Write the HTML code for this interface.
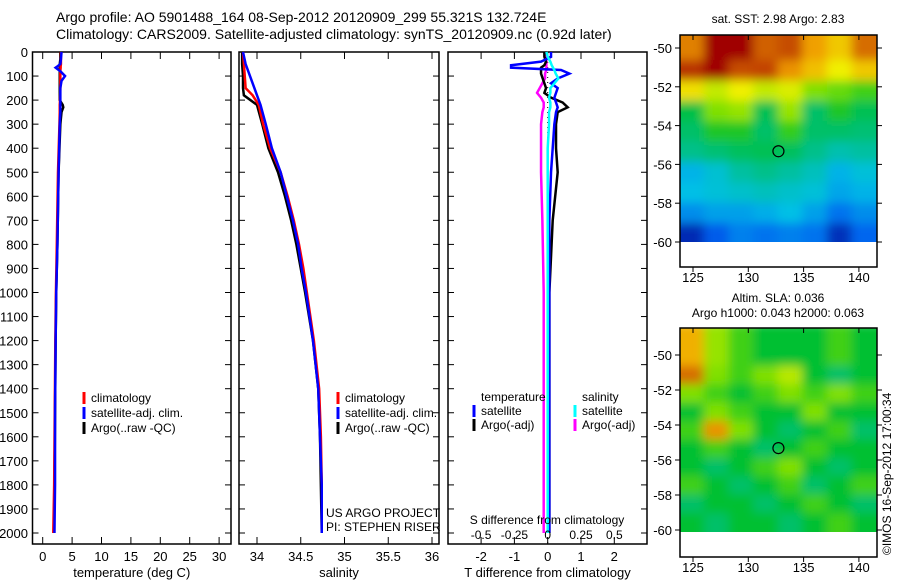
<!DOCTYPE html>
<html><head><meta charset="utf-8">
<style>
body{margin:0;background:#fff;}
svg{display:block;font-family:"Liberation Sans",sans-serif;}
</style></head>
<body>
<svg id="fig" width="900" height="580" viewBox="0 0 900 580">
<defs>
<filter id="blur" x="-0.1" y="-0.1" width="1.2" height="1.2"><feGaussianBlur stdDeviation="5"/></filter>
<clipPath id="c1"><rect x="680" y="35" width="197" height="207"/></clipPath>
<clipPath id="c2"><rect x="680" y="328" width="197" height="204"/></clipPath>
</defs>
<text x="56" y="22" font-size="14">Argo profile: AO 5901488_164 08-Sep-2012 20120909_299 55.321S 132.724E</text>
<text x="56" y="39" font-size="14">Climatology: CARS2009. Satellite-adjusted climatology: synTS_20120909.nc (0.92d later)</text>
<g id="plots"></g>
<text x="0" y="0" font-size="12" transform="translate(891,555) rotate(-90)">©IMOS 16-Sep-2012 17:00:34</text>
</svg>
<script>
// ---- data ----
const depthT = [0,30,50,60,65,80,100,120,150,200,220,230,250,300,500,800,1000,1200,1500,1800,2000];
const tempClim = [3.1,3.1,3.1,3.05,3.05,3.0,3.0,3.0,3.0,2.95,2.9,2.9,2.9,2.85,2.6,2.4,2.25,2.15,2.05,1.95,1.8];
const tempSat = [3.2,3.1,3.0,2.5,2.2,3.0,3.8,3.2,3.0,3.0,3.0,3.0,3.0,2.9,2.7,2.5,2.3,2.2,2.1,2.1,2.0];
const tempArgo = [3.0,3.0,2.9,2.9,2.9,2.9,2.9,2.9,2.9,2.9,3.4,3.5,3.2,3.0,2.7,2.5,2.3,2.2,2.1,2.0,1.9];
const depthS = [0,50,100,150,180,220,300,400,500,600,700,800,900,1000,1200,1400,1600,1800,2000];
const salClim = [33.84,33.85,33.86,33.87,33.95,34.02,34.07,34.15,34.27,34.35,34.42,34.48,34.53,34.57,34.65,34.71,34.73,34.74,34.74];
const salSat = [33.84,33.87,33.92,33.97,34.0,34.04,34.1,34.17,34.27,34.34,34.41,34.47,34.51,34.56,34.64,34.70,34.72,34.74,34.74];
const salArgo = [33.83,33.83,33.84,33.84,33.85,34.0,34.06,34.13,34.24,34.32,34.39,34.45,34.50,34.55,34.64,34.70,34.72,34.73,34.74];
const depthD = [0,20,40,55,65,75,90,110,130,150,170,190,210,230,250,300,400,500,700,1000,1300,1600,2000];
const dTsat = [0.1,0.1,-0.2,-1.1,-1.1,0.4,0.65,0.3,0.1,0.3,0.25,0.2,0.25,0.3,0.25,0.2,0.15,0.1,0.05,0.05,0.05,0.05,0.05];
const dTargo = [-0.1,-0.1,-0.05,-0.1,-0.2,-0.2,-0.2,-0.15,-0.1,-0.05,-0.1,0.1,0.45,0.6,0.3,0.25,0.25,0.3,0.15,0.05,0.05,0.05,0.05];
const dSsat = [-0.01,0.0,0.02,0.03,0.04,0.05,0.06,0.08,0.05,0.02,0.02,0.01,0.02,0.02,0.01,0.01,0.0,0.0,0.0,0.0,0.0,0.0,0.0];
const dSargo = [-0.01,-0.01,-0.01,-0.01,-0.01,-0.01,-0.02,-0.02,-0.04,-0.06,-0.08,-0.05,-0.03,-0.03,-0.04,-0.05,-0.05,-0.05,-0.04,-0.03,-0.03,-0.03,-0.03];
const depthTicks = [0,100,200,300,400,500,600,700,800,900,1000,1100,1200,1300,1400,1500,1600,1700,1800,1900,2000];
const tTicks = [0,5,10,15,20,25,30];
const sTicks = [34,34.5,35,35.5,36];
const sTickLabels = ["34","34.5","35","35.5","36"];
const dTTicks = [-2,-1,0,1,2];
const dSTicks = [-0.5,-0.25,0,0.25,0.5];
const dSTickLabels = ["-0.5","-0.25","0","0.25","0.5"];
const lonTicks = [125,130,135,140];
const latTicks = [-50,-52,-54,-56,-58,-60];
const sstGrid = [
[0.85,1.0,1.0,0.9,0.92,0.8,0.75,0.88],
[0.95,1.0,0.92,0.93,0.82,0.76,0.7,0.75],
[0.72,0.66,0.7,0.66,0.68,0.6,0.58,0.55],
[0.48,0.6,0.62,0.47,0.62,0.45,0.52,0.47],
[0.45,0.52,0.52,0.45,0.54,0.45,0.45,0.44],
[0.42,0.44,0.46,0.47,0.46,0.42,0.38,0.4],
[0.28,0.33,0.4,0.42,0.4,0.36,0.28,0.32],
[0.3,0.32,0.34,0.36,0.34,0.32,0.26,0.28],
[0.22,0.25,0.25,0.27,0.3,0.25,0.18,0.22],
[0.05,0.14,0.2,0.18,0.2,0.18,0.06,0.16]];
const slaGrid = [
[0.78,0.62,0.55,0.5,0.5,0.5,0.55,0.5],
[0.88,0.6,0.55,0.6,0.65,0.5,0.45,0.5],
[0.6,0.55,0.5,0.55,0.6,0.55,0.6,0.55],
[0.5,0.6,0.55,0.5,0.5,0.6,0.5,0.5],
[0.55,0.82,0.6,0.5,0.45,0.5,0.55,0.45],
[0.5,0.55,0.5,0.45,0.5,0.55,0.5,0.5],
[0.5,0.45,0.5,0.55,0.6,0.5,0.45,0.5],
[0.55,0.5,0.45,0.5,0.55,0.45,0.5,0.55],
[0.45,0.5,0.5,0.45,0.5,0.55,0.5,0.45],
[0.5,0.45,0.5,0.5,0.45,0.5,0.55,0.5]];
const argoLon = 132.724, argoLat = -55.321;

// ---- drawing ----
const NS='http://www.w3.org/2000/svg';
const root=document.getElementById('plots');
function mk(tag,attrs,parent){const e=document.createElementNS(NS,tag);for(const k in attrs)e.setAttribute(k,attrs[k]);(parent||root).appendChild(e);return e;}
function txt(x,y,s,anchor,size,parent){const t=mk('text',{x:x,y:y,'font-size':size||12,'text-anchor':anchor||'start'},parent);t.textContent=s;return t;}
const yD=d=>52+d*0.2405;

function panel(name,x0,x1,xs,ticks,labels,title){
  const g=mk('g',{});
  
  
  const r=mk('rect',{x:x0,y:52,width:x1-x0,height:492,fill:'none',stroke:'#000','stroke-width':1.5},g);
  
  
  ticks.forEach((t,i)=>{const x=xs(t);
    mk('line',{x1:x,x2:x,y1:544,y2:537,stroke:'#000'},g);
    mk('line',{x1:x,x2:x,y1:52,y2:59,stroke:'#000'},g);
    const l=txt(x,561,labels[i],'middle',13,g);
    
    });
  depthTicks.forEach(d=>{mk('line',{x1:x0,x2:x0+6,y1:yD(d),y2:yD(d),stroke:'#000'},g);mk('line',{x1:x1,x2:x1-6,y1:yD(d),y2:yD(d),stroke:'#000'},g);});
  const tt=txt((x0+x1)/2,577,title,'middle',13,g);
  
  
  return g;
}
function line(g,xs,vals,depths,color,name){
  const p=mk('polyline',{points:vals.map((v,i)=>xs(v)+','+yD(depths[i])).join(' '),fill:'none',stroke:color,'stroke-width':2.5},g);
  
  
}
function legend(g,x,y,color,label){
  mk('line',{x1:x,x2:x,y1:y-10,y2:y+2,stroke:color,'stroke-width':3},g);
  const t=txt(x+7,y,label,'start',12,g);
  
  
}
depthTicks.forEach(d=>{const t=txt(28,yD(d)+5,String(d),'end',13);
  
  });

// panel 1
const xT=v=>42.7+v*5.88;
const g1=panel('temperature-panel',32.5,231,xT,tTicks,tTicks.map(String),'temperature (deg C)');
line(g1,xT,tempArgo,depthT,'#000','temp-argo-line');
line(g1,xT,tempClim,depthT,'#f00','temp-clim-line');
line(g1,xT,tempSat,depthT,'#00f','temp-sat-line');
legend(g1,84,402,'#f00','climatology');legend(g1,84,417,'#00f','satellite-adj. clim.');legend(g1,84,432,'#000','Argo(..raw -QC)');

// panel 2
const xS=v=>257+(v-34)*87.5;
const g2=panel('salinity-panel',239,439,xS,sTicks,sTickLabels,'salinity');
line(g2,xS,salArgo,depthS,'#000','sal-argo-line');
line(g2,xS,salClim,depthS,'#f00','sal-clim-line');
line(g2,xS,salSat,depthS,'#00f','sal-sat-line');
legend(g2,338,402,'#f00','climatology');legend(g2,338,417,'#00f','satellite-adj. clim.');legend(g2,338,432,'#000','Argo(..raw -QC)');
txt(326,517,'US ARGO PROJECT','start',12,g2);
txt(326,531,'PI: STEPHEN RISER','start',12,g2);

// panel 3
const xDT=v=>547.7+v*33.3;
const xDS=v=>547.7+v*133.2;
const g3=panel('difference-panel',448,647,xDT,dTTicks,dTTicks.map(String),'T difference from climatology');
mk('line',{x1:xDT(0),x2:xDT(0),y1:52,y2:544,stroke:'#000','stroke-dasharray':'1,4'},g3);
line(g3,xDS,dSargo,depthD,'#f0f','s-argo-diff-line');
line(g3,xDT,dTargo,depthD,'#000','t-argo-diff-line');
line(g3,xDT,dTsat,depthD,'#00f','t-sat-diff-line');
line(g3,xDS,dSsat,depthD,'#0ff','s-sat-diff-line');
txt(481,401,'temperature','start',12,g3);txt(582,401,'salinity','start',12,g3);
legend(g3,474,415,'#00f','satellite');legend(g3,474,429,'#000','Argo(-adj)');
legend(g3,575,415,'#0ff','satellite');legend(g3,575,429,'#f0f','Argo(-adj)');
txt(547,524,'S difference from climatology','middle',12,g3);
dSTicks.forEach((v,i)=>{const t=txt(xDS(v),539,dSTickLabels[i],'middle',12,g3);
  
  });

// maps
const stops=[[0,[0,16,150]],[0.15,[0,96,240]],[0.3,[0,192,230]],[0.4,[0,192,160]],[0.5,[0,192,48]],[0.6,[128,224,0]],[0.7,[240,240,0]],[0.8,[240,160,0]],[0.9,[208,96,0]],[1,[160,0,0]]];
function cmap(v){for(let i=1;i<stops.length;i++){if(v<=stops[i][0]){const a=stops[i-1],b=stops[i],f=(v-a[0])/(b[0]-a[0]);return 'rgb('+a[1].map((c,j)=>Math.round(c+(b[1][j]-c)*f)).join(',')+')';}}return 'rgb(160,0,0)';}
function map(name,grid,top,lat50,pxPerDeg,bottom,clip,titles){
  const g=mk('g',{});
  
  
  const xL=lon=>693+(lon-125)*11.06;
  const yL=lat=>lat50+(-50-lat)*pxPerDeg;
  const cells=mk('g',{'clip-path':'url(#'+clip+')'},g);
  const cg=mk('g',{filter:'url(#blur)'},cells);
  const rows=grid.length,cols=grid[0].length;
  const lon0=123.8,lon1=141.6,latT=-49.6,latB=-60.1;
  const dLon=(lon1-lon0)/cols,dLat=(latT-latB)/rows;
  const pad=25;
  grid.forEach((row,r)=>row.forEach((v,c)=>{
    let x0=xL(lon0+c*dLon)-0.5,x1=xL(lon0+(c+1)*dLon)+0.5;
    let y0=yL(latT-r*dLat)-0.5,y1=yL(latT-(r+1)*dLat)+0.5;
    if(c===0)x0-=pad; if(c===cols-1)x1+=pad;
    if(r===0)y0-=pad; if(r===rows-1)y1+=pad;
    const cell=mk('rect',{x:x0,y:y0,width:x1-x0,height:y1-y0,fill:cmap(v)},cg);
    
    
  }));
  mk('rect',{x:680,y:top,width:197,height:bottom-top,fill:'none',stroke:'#000','stroke-width':1.5},g);
  lonTicks.forEach(l=>{const x=xL(l);mk('line',{x1:x,x2:x,y1:top,y2:top+5,stroke:'#000'},g);mk('line',{x1:x,x2:x,y1:bottom,y2:bottom+5,stroke:'#000'},g);
    txt(x,bottom+15,String(l),'middle',13,g);});
  latTicks.forEach(l=>{const y=yL(l);mk('line',{x1:675,x2:680,y1:y,y2:y,stroke:'#000'},g);mk('line',{x1:877,x2:882,y1:y,y2:y,stroke:'#000'},g);
    txt(672,y+5,String(l),'end',13,g);});
  const c=mk('circle',{cx:xL(argoLon),cy:yL(argoLat),r:5.5,fill:'none',stroke:'#000','stroke-width':1.2},g);
  
  
  titles.forEach((t,i)=>{const e=txt(778,t[1],t[0],'middle',12,g);});
}
map('sst-map',sstGrid,35,48,19.4,267,'c1',[['sat. SST: 2.98 Argo: 2.83',23]]);
map('sla-map',slaGrid,328,355,17.5,557,'c2',[['Altim. SLA: 0.036',302],['Argo h1000: 0.043 h2000: 0.063',317]]);
</script>
</body></html>
